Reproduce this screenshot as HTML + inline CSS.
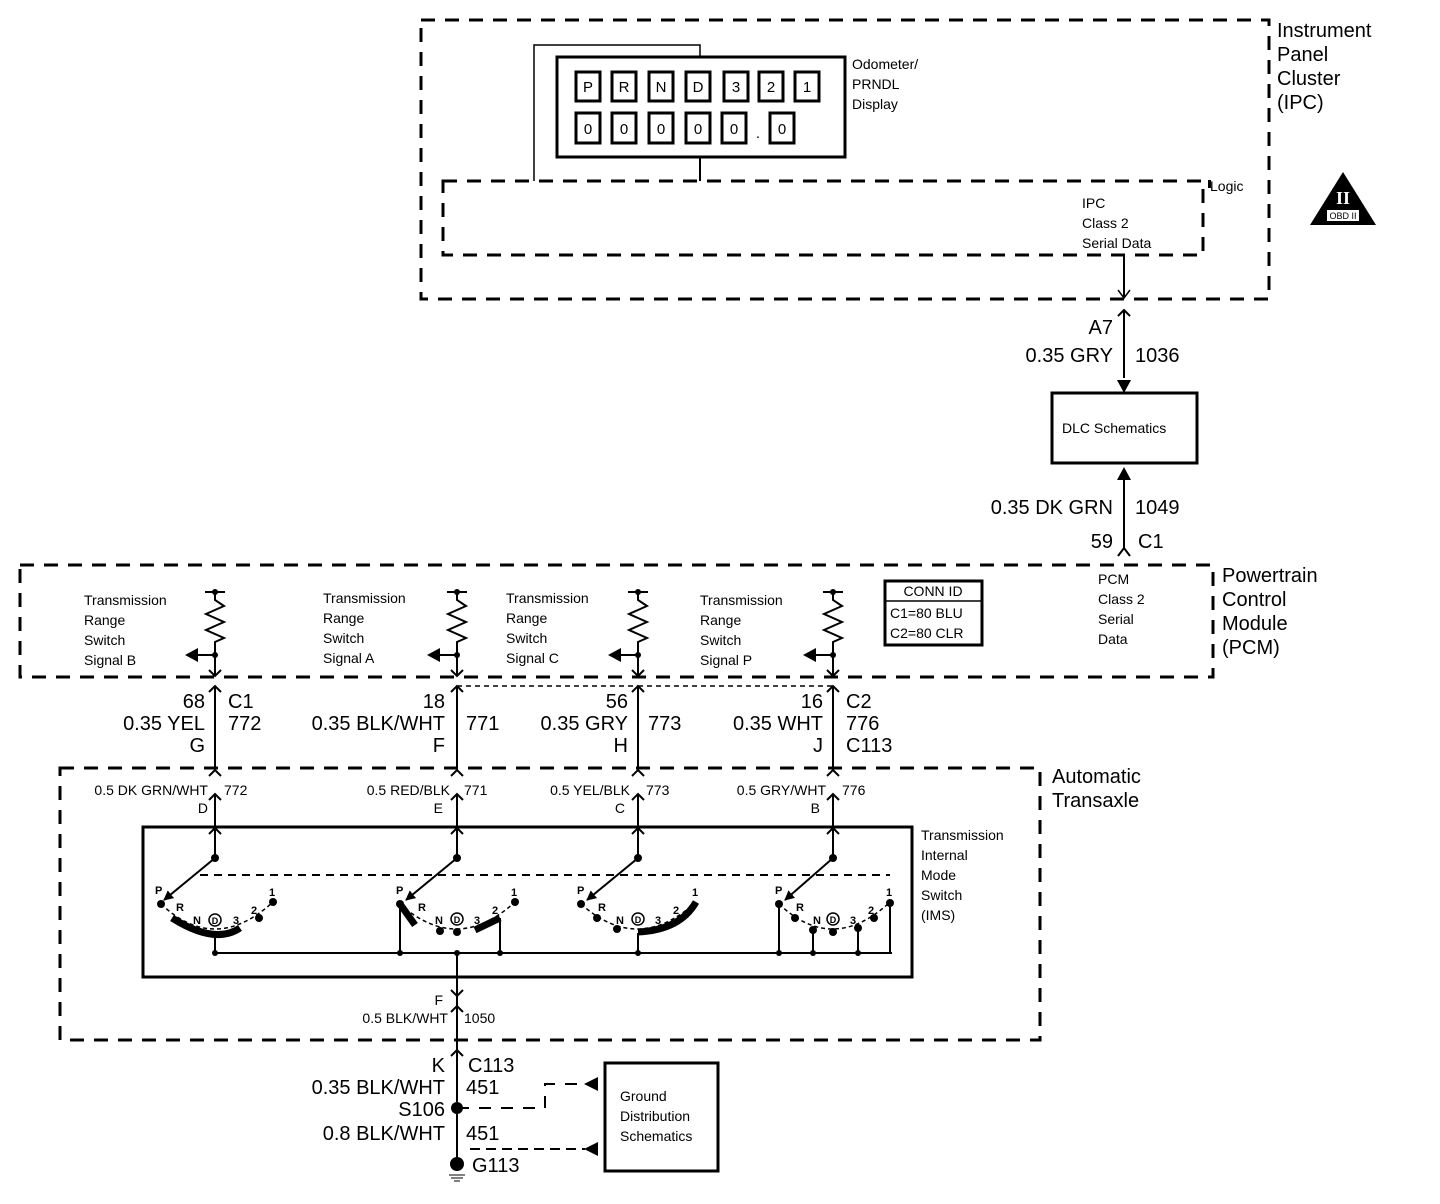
<!DOCTYPE html>
<html><head><meta charset="utf-8"><style>
html,body{margin:0;padding:0;background:#fff}
svg{display:block}
text{font-family:"Liberation Sans",Arial,sans-serif;fill:#000}
.s{font-size:14px}
.b{font-size:20px}
.m{font-size:19px}
</style></head><body>
<svg width="1440" height="1204" viewBox="0 0 1440 1204" xmlns="http://www.w3.org/2000/svg">
<defs>
<marker id="ah" markerWidth="10" markerHeight="10" refX="9" refY="5" orient="auto" markerUnits="userSpaceOnUse"><path d="M0,0 L10,5 L0,10 z" fill="#000"/></marker>
</defs>
<g fill="none" stroke="#000">
<!-- IPC -->
<rect x="421" y="20" width="848" height="279" stroke-width="3" stroke-dasharray="14,10"/>
<rect x="443" y="181" width="760" height="74" stroke-width="3" stroke-dasharray="14,10"/>
<path d="M534,181 V45 H700 V57" stroke-width="1.5"/>
<path d="M700,157 V181" stroke-width="2"/>
<rect x="557" y="57" width="288" height="100" stroke-width="3"/>
<g stroke-width="3">
<rect x="576" y="72" width="24" height="29"/><rect x="612" y="72" width="24" height="29"/><rect x="649" y="72" width="24" height="29"/><rect x="686" y="72" width="24" height="29"/><rect x="724" y="72" width="24" height="29"/><rect x="759" y="72" width="24" height="29"/><rect x="795" y="72" width="24" height="29"/>
<rect x="576" y="113" width="24" height="30"/><rect x="612" y="113" width="24" height="30"/><rect x="649" y="113" width="24" height="30"/><rect x="686" y="113" width="24" height="30"/><rect x="722" y="113" width="24" height="30"/><rect x="770" y="113" width="24" height="30"/>
</g>
<path d="M1124,255 V297" stroke-width="2"/>
<path d="M1118,290 L1124,298 L1130,290" stroke-width="1.5"/>
<path d="M1118,316 L1124,310 L1130,316 M1124,310 V378" stroke-width="2"/>
<rect x="1052" y="393" width="145" height="70" stroke-width="3"/>
<path d="M1124,548 V480" stroke-width="2"/>
<path d="M1118,556 L1124,548 L1130,556" stroke-width="2"/>
<!-- PCM -->
<rect x="20" y="565" width="1193" height="112" stroke-width="3" stroke-dasharray="14,10"/>
<rect x="885" y="581" width="97" height="64" stroke-width="3"/>
<path d="M885,601 H982" stroke-width="1.5"/>
<!-- Transaxle -->
<rect x="60" y="768" width="980" height="272" stroke-width="3" stroke-dasharray="14,10"/>
<rect x="143" y="827" width="769" height="150" stroke-width="3"/>
<path d="M200,875 H890" stroke-width="2" stroke-dasharray="8,6"/>
</g>
<g fill="#000">
<path d="M1117,380 L1131,380 L1124,393 z"/>
<path d="M1117,480 L1131,480 L1124,467 z"/>
<!-- OBD triangle -->
<path d="M1343,172 L1376,225 L1310,225 z"/>
<rect x="1327" y="210" width="32" height="11" fill="#fff"/>
</g>
<text x="1343" y="204" text-anchor="middle" style="font-size:18px;fill:#fff;font-family:'Liberation Serif',serif;font-weight:bold">II</text>
<text x="1343" y="219" text-anchor="middle" style="font-size:9px">OBD II</text>

<!-- Odometer text -->
<g class="s" text-anchor="middle" style="font-size:15px">
<text x="588" y="92">P</text><text x="624" y="92">R</text><text x="661" y="92">N</text><text x="698" y="92">D</text><text x="736" y="92">3</text><text x="771" y="92">2</text><text x="807" y="92">1</text>
<text x="588" y="134">0</text><text x="624" y="134">0</text><text x="661" y="134">0</text><text x="698" y="134">0</text><text x="734" y="134">0</text><text x="758" y="138">.</text><text x="782" y="134">0</text>
</g>
<g class="s">
<text x="852" y="69">Odometer/</text><text x="852" y="89">PRNDL</text><text x="852" y="109">Display</text>
<text x="1210" y="191">Logic</text>
<text x="1082" y="208">IPC</text><text x="1082" y="228">Class 2</text><text x="1082" y="248">Serial Data</text>
<text x="1062" y="433">DLC Schematics</text>
<text x="1098" y="584">PCM</text><text x="1098" y="604">Class 2</text><text x="1098" y="624">Serial</text><text x="1098" y="644">Data</text>
<text x="933" y="596" text-anchor="middle">CONN ID</text>
<text x="890" y="618">C1=80 BLU</text><text x="890" y="638">C2=80 CLR</text>
<text x="921" y="840">Transmission</text><text x="921" y="860">Internal</text><text x="921" y="880">Mode</text><text x="921" y="900">Switch</text><text x="921" y="920">(IMS)</text>
<text x="620" y="1101">Ground</text><text x="620" y="1121">Distribution</text><text x="620" y="1141">Schematics</text>
</g>
<g class="b">
<text x="1277" y="37">Instrument</text><text x="1277" y="61">Panel</text><text x="1277" y="85">Cluster</text><text x="1277" y="109">(IPC)</text>
<text x="1222" y="582">Powertrain</text><text x="1222" y="606">Control</text><text x="1222" y="630">Module</text><text x="1222" y="654">(PCM)</text>
<text x="1052" y="783">Automatic</text><text x="1052" y="807">Transaxle</text>
</g>
<g class="b">
<text x="1113" y="334" text-anchor="end">A7</text>
<text x="1113" y="362" text-anchor="end">0.35 GRY</text>
<text x="1135" y="362">1036</text>
<text x="1113" y="514" text-anchor="end">0.35 DK GRN</text>
<text x="1135" y="514">1049</text>
<text x="1113" y="548" text-anchor="end">59</text>
<text x="1138" y="548">C1</text>
</g>
<rect x="1208" y="180" width="3" height="8" fill="#000"/>

<!-- Columns -->
<g id="cols" fill="none" stroke="#000" stroke-width="2">
<!-- column 215 -->
<path d="M215,592 V600 l9,6 l-18,8 l18,8 l-18,8 l18,8 l-9,4 V676"/>
<path d="M205,592 H225"/>
<path d="M215,655 H198"/>
<path d="M209,670 L215,676 L221,670"/>
<path d="M209,692 L215,686 L221,692 M215,686 V770"/>
<path d="M209,776 L215,770 L221,776"/>
<path d="M209,800 L215,794 L221,800 M215,794 V828"/>
<path d="M209,834 L215,828 L221,834 M215,828 V858"/>
<!-- column 457 -->
<path d="M457,592 V600 l9,6 l-18,8 l18,8 l-18,8 l18,8 l-9,4 V676"/>
<path d="M447,592 H467"/><path d="M457,655 H440"/>
<path d="M451,670 L457,676 L463,670"/>
<path d="M451,692 L457,686 L463,692 M457,686 V770"/>
<path d="M451,776 L457,770 L463,776"/>
<path d="M451,800 L457,794 L463,800 M457,794 V858"/>
<path d="M451,834 L457,828 L463,834"/>
<!-- column 638 -->
<path d="M638,592 V600 l9,6 l-18,8 l18,8 l-18,8 l18,8 l-9,4 V676"/>
<path d="M628,592 H648"/><path d="M638,655 H621"/>
<path d="M632,670 L638,676 L644,670"/>
<path d="M632,692 L638,686 L644,692 M638,686 V770"/>
<path d="M632,776 L638,770 L644,776"/>
<path d="M632,800 L638,794 L644,800 M638,794 V858"/>
<path d="M632,834 L638,828 L644,834"/>
<!-- column 833 -->
<path d="M833,592 V600 l9,6 l-18,8 l18,8 l-18,8 l18,8 l-9,4 V676"/>
<path d="M823,592 H843"/><path d="M833,655 H816"/>
<path d="M827,670 L833,676 L839,670"/>
<path d="M827,692 L833,686 L839,692 M833,686 V770"/>
<path d="M827,776 L833,770 L839,776"/>
<path d="M827,800 L833,794 L839,800 M833,794 V858"/>
<path d="M827,834 L833,828 L839,834"/>
<path d="M457,686 H638 M638,686 H833" stroke-width="1.5" stroke-dasharray="5,4"/>
</g>
<g fill="#000">
<path d="M185,655 l13,-7 v14 z"/><path d="M427,655 l13,-7 v14 z"/><path d="M608,655 l13,-7 v14 z"/><path d="M803,655 l13,-7 v14 z"/>
<circle cx="215" cy="592" r="3"/><circle cx="457" cy="592" r="3"/><circle cx="638" cy="592" r="3"/><circle cx="833" cy="592" r="3"/>
<circle cx="215" cy="655" r="3"/><circle cx="457" cy="655" r="3"/><circle cx="638" cy="655" r="3"/><circle cx="833" cy="655" r="3"/>
</g>

<!-- wire labels -->
<g class="b">
<text x="205" y="708" text-anchor="end">68</text><text x="228" y="708">C1</text>
<text x="205" y="730" text-anchor="end">0.35 YEL</text><text x="228" y="730">772</text>
<text x="205" y="752" text-anchor="end">G</text>
<text x="445" y="708" text-anchor="end">18</text>
<text x="445" y="730" text-anchor="end">0.35 BLK/WHT</text><text x="466" y="730">771</text>
<text x="445" y="752" text-anchor="end">F</text>
<text x="628" y="708" text-anchor="end">56</text>
<text x="628" y="730" text-anchor="end">0.35 GRY</text><text x="648" y="730">773</text>
<text x="628" y="752" text-anchor="end">H</text>
<text x="823" y="708" text-anchor="end">16</text><text x="846" y="708">C2</text>
<text x="823" y="730" text-anchor="end">0.35 WHT</text><text x="846" y="730">776</text>
<text x="823" y="752" text-anchor="end">J</text><text x="846" y="752">C113</text>
</g>
<g class="s">
<text x="208" y="795" text-anchor="end">0.5 DK GRN/WHT</text><text x="208" y="813" text-anchor="end">D</text><text x="224" y="795">772</text>
<text x="450" y="795" text-anchor="end">0.5 RED/BLK</text><text x="443" y="813" text-anchor="end">E</text><text x="464" y="795">771</text>
<text x="630" y="795" text-anchor="end">0.5 YEL/BLK</text><text x="625" y="813" text-anchor="end">C</text><text x="646" y="795">773</text>
<text x="826" y="795" text-anchor="end">0.5 GRY/WHT</text><text x="820" y="813" text-anchor="end">B</text><text x="842" y="795">776</text>
<text x="443" y="1005" text-anchor="end">F</text>
<text x="448" y="1023" text-anchor="end">0.5 BLK/WHT</text><text x="464" y="1023">1050</text>
</g>

<!-- switches -->
<g stroke="#000" fill="none">
<!-- bus -->
<path d="M215,953 H892 M400,953 V905 M500,953 V918 M638,953 V933 M779,953 V905 M813,953 V930 M858,953 V928 M890,953 V903 M215,953 V932" stroke-width="2"/>
<path d="M457,953 V1050 M451,990 L457,996 L463,990 M451,1012 L457,1006 L463,1012" stroke-width="2"/>
<!-- arms -->
<path d="M215,858 L164,900" stroke-width="2" marker-end="url(#ah)"/>
<path d="M457,858 L406,900" stroke-width="2" marker-end="url(#ah)"/>
<path d="M638,858 L587,900" stroke-width="2" marker-end="url(#ah)"/>
<path d="M833,858 L785,900" stroke-width="2" marker-end="url(#ah)"/>
<!-- dotted arcs -->
<path d="M161,904 Q215,955 273,902" stroke-width="1.5" stroke-dasharray="4,3"/>
<path d="M400,904 Q457,955 515,902" stroke-width="1.5" stroke-dasharray="4,3"/>
<path d="M581,904 Q638,955 696,902" stroke-width="1.5" stroke-dasharray="4,3"/>
<path d="M779,904 Q833,955 890,902" stroke-width="1.5" stroke-dasharray="4,3"/>
<!-- thick segments -->
<path d="M172,918 Q215,945 240,928" stroke-width="7"/>
<path d="M400,904 L415,925" stroke-width="7"/>
<path d="M475,930 L500,918" stroke-width="7"/>
<path d="M638,932 Q680,930 696,902" stroke-width="7"/>
<circle cx="215" cy="920" r="6" stroke-width="1.5"/>
<circle cx="457" cy="919" r="6" stroke-width="1.5"/>
<circle cx="638" cy="919" r="6" stroke-width="1.5"/>
<circle cx="833" cy="919" r="6" stroke-width="1.5"/>
</g>
<g fill="#000">
<circle cx="215" cy="858" r="4"/><circle cx="457" cy="858" r="4"/><circle cx="638" cy="858" r="4"/><circle cx="833" cy="858" r="4"/>
<circle cx="161" cy="904" r="4"/><circle cx="259" cy="918" r="4"/><circle cx="273" cy="902" r="4"/>
<circle cx="400" cy="904" r="4"/><circle cx="440" cy="931" r="4"/><circle cx="457" cy="932" r="4"/><circle cx="515" cy="902" r="4"/>
<circle cx="581" cy="904" r="4"/><circle cx="597" cy="918" r="4"/><circle cx="617" cy="929" r="4"/>
<circle cx="779" cy="904" r="4"/><circle cx="795" cy="918" r="4"/><circle cx="813" cy="930" r="4"/><circle cx="833" cy="932" r="4"/><circle cx="858" cy="928" r="4"/><circle cx="874" cy="918" r="4"/><circle cx="890" cy="903" r="4"/>
<circle cx="215" cy="953" r="3"/><circle cx="400" cy="953" r="3"/><circle cx="457" cy="953" r="3"/><circle cx="500" cy="953" r="3"/><circle cx="638" cy="953" r="3"/><circle cx="779" cy="953" r="3"/><circle cx="813" cy="953" r="3"/><circle cx="858" cy="953" r="3"/>
</g>
<g style="font-size:11px;font-weight:bold">
<text x="155" y="894">P</text><text x="176" y="911">R</text><text x="193" y="924">N</text><text x="233" y="924">3</text><text x="251" y="914">2</text><text x="269" y="896">1</text>
<text x="396" y="894">P</text><text x="418" y="911">R</text><text x="435" y="924">N</text><text x="474" y="924">3</text><text x="492" y="914">2</text><text x="511" y="896">1</text>
<text x="577" y="894">P</text><text x="598" y="911">R</text><text x="616" y="924">N</text><text x="655" y="924">3</text><text x="673" y="914">2</text><text x="692" y="896">1</text>
<text x="775" y="894">P</text><text x="796" y="911">R</text><text x="813" y="924">N</text><text x="850" y="924">3</text><text x="868" y="914">2</text><text x="886" y="896">1</text>
<text x="215" y="924" text-anchor="middle" style="font-size:9px">D</text><text x="457" y="923" text-anchor="middle" style="font-size:9px">D</text><text x="638" y="923" text-anchor="middle" style="font-size:9px">D</text><text x="833" y="923" text-anchor="middle" style="font-size:9px">D</text>
</g>

<!-- bottom ground -->
<g fill="none" stroke="#000">
<path d="M451,1056 L457,1050 L463,1056 M457,1050 V1160" stroke-width="2"/>
<path d="M457,1108 H545 V1084 H585" stroke-width="2" stroke-dasharray="12,10"/>
<path d="M470,1149 H585" stroke-width="2" stroke-dasharray="10,6"/>
<rect x="605" y="1063" width="113" height="108" stroke-width="3"/>
<path d="M449,1175 H465 M451,1178 H463 M454,1181 H460" stroke-width="1"/>
</g>
<g fill="#000">
<path d="M598,1077 v14 l-14,-7 z"/><path d="M598,1142 v14 l-14,-7 z"/>
<circle cx="457" cy="1108" r="6"/><circle cx="457" cy="1164" r="7"/>
</g>
<g class="b">
<text x="445" y="1072" text-anchor="end">K</text><text x="468" y="1072">C113</text>
<text x="445" y="1094" text-anchor="end">0.35 BLK/WHT</text><text x="466" y="1094">451</text>
<text x="445" y="1116" text-anchor="end">S106</text>
<text x="445" y="1140" text-anchor="end">0.8 BLK/WHT</text><text x="466" y="1140">451</text>
<text x="472" y="1172">G113</text>
</g>
<g class="s">
<text x="84" y="605">Transmission</text><text x="84" y="625">Range</text><text x="84" y="645">Switch</text><text x="84" y="665">Signal B</text>
<text x="323" y="603">Transmission</text><text x="323" y="623">Range</text><text x="323" y="643">Switch</text><text x="323" y="663">Signal A</text>
<text x="506" y="603">Transmission</text><text x="506" y="623">Range</text><text x="506" y="643">Switch</text><text x="506" y="663">Signal C</text>
<text x="700" y="605">Transmission</text><text x="700" y="625">Range</text><text x="700" y="645">Switch</text><text x="700" y="665">Signal P</text>
</g>
</svg>
</body></html>
